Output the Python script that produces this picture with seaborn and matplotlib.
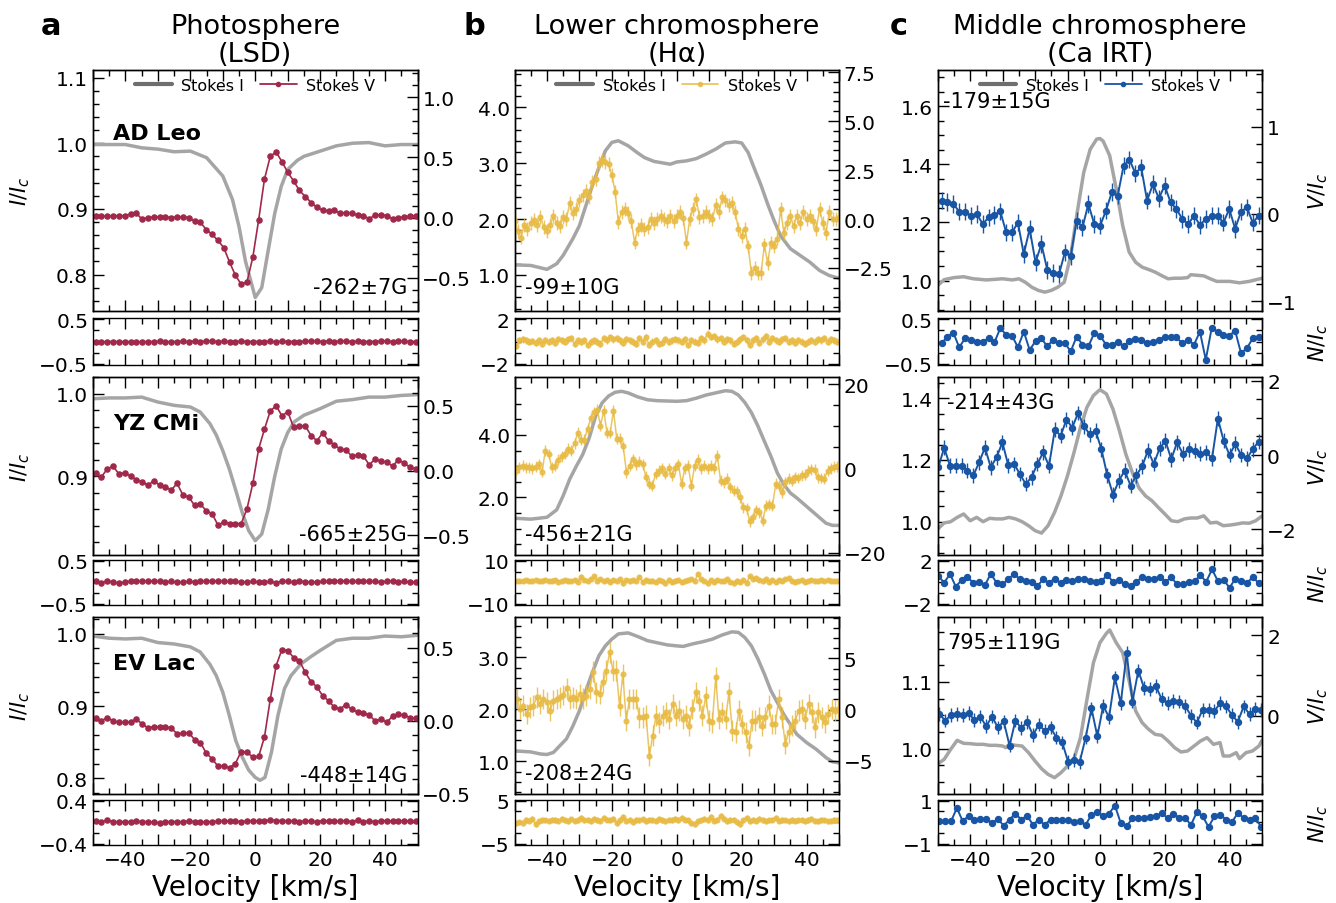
import numpy as np
import matplotlib
matplotlib.use("Agg")
import matplotlib.pyplot as plt
import seaborn as sns
from matplotlib.ticker import MultipleLocator, FixedLocator, FuncFormatter
from matplotlib.lines import Line2D

# ---------------------------------------------------------------- data
column_titles = ["Photosphere\n(LSD)", "Lower chromosphere\n(H\u03b1)", "Middle chromosphere\n(Ca IRT)"]
panel_letters = ["a", "b", "c"]
stars = ["AD Leo", "YZ CMi", "EV Lac"]
bfield_labels = [["-262\u00b17G", "-665\u00b125G", "-448\u00b114G"],
                 ["-99\u00b110G", "-456\u00b121G", "-208\u00b124G"],
                 ["-179\u00b115G", "-214\u00b143G", "795\u00b1119G"]]

# ---- Photosphere (LSD) Stokes I
vI_a1 = [-50, -45, -40, -35, -30, -25, -20, -15, -10, -7, -5, -3, 0, 2, 4, 6, 8, 10, 13, 15, 20, 25, 30, 35, 40, 45, 50]
I_a1 = [0.998, 0.998, 0.998, 0.993, 0.991, 0.987, 0.988, 0.978, 0.95, 0.914, 0.873, 0.82, 0.765, 0.78, 0.837, 0.893,
        0.934, 0.96, 0.974, 0.98, 0.988, 0.996, 1.0, 1.001, 0.996, 0.998, 0.998]
vI_a2 = [-50, -45, -40, -35, -30, -25, -20, -17, -14, -12, -10, -8, -6, -4, -2, 0, 2, 4, 6, 8, 10, 12, 15, 20, 25, 30,
         35, 40, 45, 50]
I_a2 = [0.994, 0.995, 0.995, 0.996, 0.99, 0.986, 0.984, 0.978, 0.964, 0.95, 0.931, 0.909, 0.883, 0.856, 0.834, 0.822,
        0.83, 0.86, 0.9, 0.933, 0.953, 0.966, 0.974, 0.982, 0.991, 0.993, 0.996, 0.996, 0.998, 0.999]
vI_a3 = [-50, -45, -40, -35, -30, -25, -20, -17, -14, -12, -10, -8, -6, -4, -2, 0, 1.5, 3, 5, 7, 9, 11, 14, 17, 20, 25,
         30, 35, 40, 45, 50]
I_a3 = [0.997, 0.994, 0.993, 0.994, 0.988, 0.986, 0.982, 0.975, 0.958, 0.942, 0.919, 0.887, 0.852, 0.829, 0.811, 0.801,
        0.797, 0.801, 0.836, 0.887, 0.924, 0.942, 0.958, 0.968, 0.977, 0.991, 0.994, 0.994, 0.997, 0.996, 0.998]

# ---- Photosphere (LSD) Stokes V and null
V_a1 = [0.01, 0.01, 0.01, 0.015, 0.015, 0.015, 0.03, 0.035, -0.015, 0.0, 0.005, 0.005, 0.005, 0.0, 0.005, 0.005, 0.0,
        -0.03, -0.04, -0.1, -0.14, -0.19, -0.25, -0.37, -0.48, -0.555, -0.535, -0.33, -0.02, 0.32, 0.51, 0.545, 0.465,
        0.375, 0.305, 0.225, 0.175, 0.125, 0.085, 0.06, 0.055, 0.06, 0.035, 0.04, 0.035, 0.02, 0.015, -0.01, 0.02,
        0.025, 0.015, -0.01, 0.0, 0.005, 0.015, 0.015]
V_a2 = [-0.018, -0.05, 0.013, 0.033, -0.026, -0.018, -0.044, -0.07, -0.085, -0.115, -0.077, -0.115, -0.128, -0.15,
        -0.1, -0.19, -0.205, -0.27, -0.26, -0.31, -0.333, -0.42, -0.4, -0.41, -0.41, -0.41, -0.295, -0.1, 0.167, 0.32,
        0.46, 0.5, 0.423, 0.454, 0.333, 0.341, 0.346, 0.27, 0.23, 0.29, 0.23, 0.197, 0.167, 0.159, 0.11, 0.12, 0.11,
        0.044, 0.09, 0.07, 0.064, 0.033, 0.085, 0.056, 0.026, 0.013]
V_a3 = [0.022, 0.0, 0.022, 0.0, -0.011, -0.011, -0.007, 0.011, -0.022, -0.049, -0.04, -0.04, -0.04, -0.051, -0.089,
        -0.085, -0.082, -0.129, -0.149, -0.222, -0.26, -0.311, -0.307, -0.322, -0.293, -0.211, -0.216, -0.249, -0.244,
        -0.111, 0.149, 0.378, 0.489, 0.482, 0.433, 0.411, 0.333, 0.267, 0.233, 0.171, 0.138, 0.093, 0.082, 0.111,
        0.078, 0.06, 0.056, 0.038, 0.0, 0.011, -0.011, 0.033, 0.044, 0.038, 0.022, 0.016]
N_a1 = [-0.01, -0.01, 0.0, -0.005, 0.0, -0.005, -0.005, -0.01, 0.0, -0.005, 0.0, 0.005, 0.0, -0.01, 0.0, 0.005, 0.0,
        0.01, 0.0, 0.005, 0.01, 0.0, 0.005, 0.0, 0.0, 0.005, 0.0, 0.0, 0.0, 0.0, 0.005, -0.005, 0.005, 0.0, 0.0, -0.005,
        0.005, 0.01, 0.01, 0.0, 0.01, 0.0, 0.005, 0.005, 0.0, 0.005, 0.0, 0.0, 0.0, 0.005, 0.005, 0.0, 0.005, 0.005,
        0.0, 0.0]
N_a2 = [0.02, -0.01, 0.04, 0.0, -0.01, 0.0, 0.03, 0.03, 0.02, 0.03, 0.03, 0.02, 0.01, 0.02, 0.0, 0.0, 0.02, 0.0, 0.02,
        0.03, 0.02, 0.03, 0.03, 0.02, 0.02, 0.0, 0.01, 0.02, 0.0, 0.0, 0.02, -0.01, 0.03, 0.02, 0.0, 0.03, 0.01, 0.0,
        0.01, 0.02, 0.02, 0.03, 0.04, 0.03, 0.02, 0.02, 0.02, 0.03, 0.02, 0.01, 0.02, 0.03, 0.01, 0.02, 0.0, 0.01]
N_a3 = [0.02, 0.01, 0.04, 0.01, 0.01, 0.01, 0.01, 0.02, 0.01, 0.01, 0.0, -0.01, 0.01, 0.01, 0.01, 0.01, 0.02, 0.01, 0.0,
        0.01, 0.01, 0.02, 0.03, 0.02, 0.02, 0.01, 0.02, 0.03, 0.02, 0.03, 0.04, 0.03, 0.03, 0.02, 0.03, 0.0, 0.03, 0.02,
        0.01, 0.03, 0.02, 0.02, 0.02, 0.03, 0.01, 0.04, 0.01, 0.02, 0.01, 0.02, 0.03, 0.02, 0.02, 0.03, 0.02, 0.02]

# ---- H-alpha Stokes I
vI_b1 = [-50, -45, -40, -37, -35, -32, -30, -28, -26, -24, -22, -20, -18, -15, -12, -10, -7, -4, -2, 0, 3, 6, 9, 12, 15,
         18, 20, 22, 24, 26, 28, 30, 32, 35, 38, 41, 44, 47, 50]
I_b1 = [1.18, 1.17, 1.1, 1.2, 1.35, 1.65, 1.88, 2.24, 2.6, 2.92, 3.22, 3.37, 3.4, 3.31, 3.18, 3.1, 3.03, 3.0, 2.98,
        3.02, 3.04, 3.08, 3.16, 3.25, 3.36, 3.38, 3.36, 3.19, 2.89, 2.6, 2.27, 1.97, 1.7, 1.47, 1.35, 1.23, 1.08, 0.99,
        0.94]
vI_b2 = [-50, -45, -40, -37, -35, -33, -31, -29, -27, -25, -23, -21, -19, -17, -15, -12, -9, -6, -3, 0, 3, 6, 9, 12,
         15, 17, 19, 21, 23, 25, 27, 29, 31, 33, 35, 37, 40, 43, 46, 48, 50]
I_b2 = [1.33, 1.3, 1.36, 1.6, 2.05, 2.58, 2.99, 3.37, 3.9, 4.6, 5.03, 5.25, 5.37, 5.4, 5.35, 5.22, 5.13, 5.1, 5.09,
        5.08, 5.1, 5.18, 5.28, 5.35, 5.42, 5.4, 5.28, 5.04, 4.72, 4.29, 3.8, 3.32, 2.78, 2.41, 2.14, 1.98, 1.71, 1.44,
        1.17, 1.1, 1.1]
vI_b3 = [-50, -45, -42, -40, -38, -36, -34, -32, -30, -28, -26, -24, -22, -20, -18, -15, -12, -9, -6, -3, 0, 2, 5, 8,
         11, 14, 17, 19, 21, 23, 25, 27, 29, 31, 33, 35, 37, 40, 43, 46, 48, 50]
I_b3 = [1.2, 1.18, 1.14, 1.13, 1.17, 1.3, 1.43, 1.68, 1.97, 2.36, 2.71, 3.03, 3.22, 3.35, 3.45, 3.47, 3.4, 3.32, 3.28,
        3.24, 3.22, 3.21, 3.26, 3.3, 3.35, 3.43, 3.49, 3.48, 3.38, 3.22, 2.97, 2.68, 2.36, 2.13, 1.9, 1.71, 1.52, 1.36,
        1.23, 1.07, 0.99, 0.97]

# ---- H-alpha Stokes V and null
V_b1 = [-0.1, -0.6, -0.95, -0.3, -0.5, -0.2, -0.05, -0.3, 0.1, -0.4,
        -0.6, -0.3, 0.15, -0.2, -0.35, 0.1, 0.0, 0.8, 0.3, 0.5,
        0.95, 1.2, 1.45, 1.1, 1.9, 2.05, 2.85, 3.0, 2.9, 2.8,
        2.25, 1.4, -0.15, 0.35, 0.5, 0.3, -0.1, -1.2, -0.5, -0.3,
        -0.5, -0.4, 0.0, -0.2, 0.0, 0.15, 0.0, -0.1, 0.15, -0.1,
        0.15, 0.35, 0.05, -1.2, 0.0, 0.5, 1.0, 0.1, 0.15, 0.35,
        0.15, 0.0, 0.7, 0.35, 1.1, 0.95, 0.7, 0.8, 0.35, -0.5,
        -0.85, -0.5, -1.4, -2.75, -2.5, -2.75, -2.75, -1.3, -2.25, -1.2,
        -1.4, -1.0, 0.5, -0.7, -0.2, 0.15, -0.35, 0.15, -0.2, 0.35,
        0.0, 0.15, -0.1, -0.5, 0.5, -0.2, -0.7, 0.35, 0.0, 0.0, 0.1]
V_b2 = [-0.55, 0.3, 0.6, 0.2, 0.3, 0.0, 0.4, 1.0, -0.8, 4.2,
        3.4, 0.2, 0.6, 2.0, 2.85, 3.4, 4.6, 4.2, 6.0, 8.4,
        6.8, 6.8, 9.3, 11.9, 13.3, 13.9, 10.1, 13.7, 8.5, 8.5,
        13.7, 7.0, 7.0, 5.2, -0.9, 0.6, 2.2, 1.0, 1.6, 1.0,
        -2.0, -3.7, -4.1, -1.3, -0.55, 0.0, -1.3, 0.0, -1.7, 0.0,
        1.0, -3.7, 0.0, 0.6, -4.1, 0.6, 2.05, 0.0, 0.6, 0.0,
        0.6, 0.0, 3.0, -2.9, -3.3, -2.5, -4.5, -5.3, -5.5, -6.9,
        -9.2, -9.5, -12.6, -11.6, -10.0, -10.4, -12.4, -8.9, -8.5, -8.9,
        -3.7, -4.1, -5.7, -3.3, -2.5, -2.9, -2.1, -2.3, -1.7, -1.5,
        -0.6, -0.2, -0.3, -2.1, -2.3, -2.5, -0.6, 0.0, 0.4, 0.5]
V_b3 = [1.04, 0.07, 0.39, -0.42, 0.23, 0.39, 1.2, 0.55, 1.04, 0.72,
        -0.1, 0.88, 1.04, 1.2, 1.43, 2.08, 1.04, 1.2, 1.04, 1.53,
        1.11, 1.37, 2.02, 3.71, 1.69, 1.53, 2.67, 3.81, 5.6, 3.81,
        3.81, 0.39, 3.49, -1.07, 1.04, 1.04, 1.04, -0.75, -0.75, -0.59,
        -4.5, -2.54, -0.59, -1.24, -0.59, -0.26, -0.91, 0.55, -0.59, -0.1,
        -0.91, -0.59, -1.56, 0.07, 1.69, 0.88, -0.59, 1.3, -1.07, -1.24,
        3.16, -0.91, -0.26, -0.91, 1.69, -2.05, -2.21, -0.1, -1.4, -2.21,
        -3.52, -1.07, -1.07, -0.75, -1.56, -0.75, 0.39, -1.4, -1.4, 1.04,
        -0.75, -3.36, -2.21, -1.56, -1.07, -0.1, 0.07, -0.91, 0.55, -0.26,
        -1.73, -0.26, -0.75, -1.24, -0.42, 0.07, -0.1, 0.07]
N_b1 = [-0.4, 0.1, 0.2, 0.1, 0.0, 0.05, -0.1, 0.1, -0.2, 0.1, 0.0, 0.1, -0.1, 0.2, 0.1, 0.0, 0.2, 0.3, -0.2, 0.1,
        0.0, 0.1, -0.3, 0.0, 0.1, 0.0, -0.2, 0.3, 0.1, 0.4, 0.2, 0.3, 0.1, -0.1, 0.2, 0.1, 0.0, -0.2, 0.3, 0.0,
        0.4, -0.3, 0.0, 0.1, -0.2, -0.1, 0.2, 0.0, 0.1, 0.2, 0.1, 0.0, 0.2, -0.3, 0.1, 0.0, -0.1, 0.3, 0.1, 0.7,
        0.4, 0.5, 0.2, 0.3, 0.0, 0.2, 0.1, -0.2, 0.0, 0.2, 0.4, 0.1, -0.3, 0.1, 0.3, -0.1, 0.2, 0.5, 0.0, 0.3,
        0.1, 0.0, 0.2, 0.3, 0.0, 0.1, -0.1, 0.1, 0.0, -0.2, 0.0, 0.1, 0.0, 0.2, 0.1, 0.3, 0.0, 0.2, 0.1, 0.0]
N_b2 = [0.5, 0.8, 0.5, 1.0, 0.5, 0.8, 1.2, 0.5, 0.8, 1.0, 0.5, 0.8, 1.0, 0.3, 0.5, 1.2, 0.8, 0.5, 1.0, 0.2,
        2.7, 1.0, 0.5, 1.5, 3.0, 0.8, 1.5, 0.5, 1.2, 0.0, 1.0, 0.5, 1.5, -0.5, 1.0, 0.8, 1.2, 0.5, 2.5, 0.3,
        1.0, 0.5, 0.8, 0.0, 1.0, 0.5, -0.5, 1.0, 0.3, 0.8, 1.2, 0.0, 0.8, 1.0, 1.5, 0.5, 4.0, 1.5, 0.5, -0.5,
        1.0, 0.0, 1.2, 0.5, 0.8, 1.5, 0.0, -0.5, 0.8, 0.3, 1.0, -0.3, 2.8, 1.5, 1.8, 1.2, 0.5, 1.5, 0.3, 1.0,
        0.0, 1.2, 0.5, 1.5, 1.8, 0.5, 0.0, 0.5, 1.0, 0.3, 0.5, 1.0, 0.8, 0.5, 1.2, 0.5, 1.0, 0.8, 0.5, 0.5]
N_b3 = [-0.3, 0.0, -0.2, 0.5, 0.3, 0.8, -0.5, 0.2, 0.5, 0.4, 0.3, 0.6, 0.5, 0.3, 0.8, 0.4, 0.2, 0.7, 0.3, 0.5,
        1.0, 0.4, 0.6, 0.2, 0.8, 0.5, 0.3, 1.0, 0.6, 0.4, 0.8, -0.2, 0.5, 1.2, 0.3, 0.6, 0.0, 0.5, 0.4, 0.7,
        0.2, 0.6, 0.5, 0.3, 0.8, 0.5, 0.2, 0.6, 0.5, 0.8, 0.5, 1.0, 0.6, 0.4, -0.3, -0.4, 0.2, 0.4, 0.8, 0.5,
        1.2, 0.3, 0.6, 1.5, 0.8, 0.2, 0.5, 0.6, 0.0, -0.5, 0.4, 1.0, 0.2, 0.6, 0.3, 0.8, 0.5, 0.2, 0.4, 0.6,
        1.0, 0.3, 0.5, 0.4, 0.2, 0.5, 0.3, 0.4, 0.6, 0.2, 0.5, 0.8, 0.3, 0.2, 0.5, 0.4, 0.2, 0.3, 0.5, 0.4]

# ---- Ca IRT Stokes I
vI_c1 = [-50, -48, -45, -42, -39, -35, -30, -27, -25, -23, -21, -19, -17, -15, -13, -11, -9, -7, -5, -3, -1, 0, 1, 3,
         5, 7, 9, 11, 13, 15, 17, 19, 21, 23, 25, 27, 28, 30, 32, 34, 36, 40, 43, 46, 50]
I_c1 = [0.983, 1.003, 1.01, 1.013, 1.006, 1.002, 1.006, 1.002, 1.006, 0.994, 0.977, 0.966, 0.96, 0.966, 0.977, 0.994,
        1.086, 1.235, 1.372, 1.452, 1.487, 1.489, 1.48, 1.43, 1.316, 1.19, 1.098, 1.063, 1.046, 1.038, 1.029, 1.017,
        1.006, 1.008, 1.008, 1.01, 1.02, 1.018, 1.016, 1.006, 0.997, 0.997, 0.992, 0.997, 1.008]
vI_c2 = [-50, -48, -46, -44, -42, -40, -38, -36, -34, -32, -30, -28, -26, -24, -22, -20, -18, -16, -14, -12, -10, -8,
         -6, -4, -2, 0, 2, 4, 6, 8, 10, 12, 14, 16, 18, 20, 22, 24, 26, 28, 30, 32, 34, 36, 38, 40, 42, 44, 46, 48, 50]
I_c2 = [0.976, 0.996, 1.0, 1.014, 1.025, 1.003, 1.014, 1.0, 1.011, 1.009, 1.009, 1.014, 1.009, 1.0, 0.987, 0.971,
        0.963, 0.987, 1.03, 1.084, 1.149, 1.224, 1.306, 1.371, 1.409, 1.428, 1.414, 1.365, 1.295, 1.218, 1.159, 1.11,
        1.084, 1.068, 1.046, 1.025, 1.003, 1.0, 1.009, 1.012, 1.012, 1.019, 0.996, 0.998, 0.987, 0.989, 0.992, 0.996,
        0.995, 1.003, 1.019]
vI_c3 = [-50, -48, -46, -44, -42, -40, -38, -36, -34, -32, -30, -29, -28, -26, -24, -22, -20, -18, -16, -14, -12, -10,
         -8, -6, -4, -2, 0, 2, 3, 5, 7, 9, 11, 13, 15, 17, 19, 21, 23, 25, 27, 29, 31, 33, 35, 37, 38, 40, 42, 43, 45,
         47, 49, 50]
I_c3 = [0.977, 0.984, 0.999, 1.0125, 1.008, 1.0075, 1.0065, 1.0065, 1.005, 1.005, 1.004, 1.0015, 1.0065, 1.005, 1.004,
        0.994, 0.9815, 0.97, 0.9615, 0.9565, 0.964, 0.974, 0.985, 1.0165, 1.074, 1.129, 1.159, 1.173, 1.178, 1.159,
        1.144, 1.1015, 1.0565, 1.039, 1.029, 1.0215, 1.02, 1.0115, 1.0015, 0.995, 0.9965, 1.004, 1.0115, 1.0165,
        1.0065, 1.009, 0.989, 0.989, 0.994, 0.985, 0.994, 0.9965, 1.004, 1.013]

# ---- Ca IRT Stokes V and null
V_c1 = [0.153, 0.14, 0.115, 0.027, 0.027, -0.02, 0.0, -0.115, -0.04, -0.01, 0.03, -0.21, -0.21, -0.1, -0.46, -0.17,
        -0.555, -0.344, -0.64, -0.677, -0.69, -0.44, -0.48, -0.076, -0.153, 0.115, -0.115, -0.134, 0.038, 0.25, 0.21,
        0.555, 0.623, 0.467, 0.535, 0.153, 0.344, 0.18, 0.325, 0.134, 0.057, -0.057, -0.115, -0.02, -0.126, -0.057,
        -0.02, -0.02, -0.1, 0.057, -0.17, 0.027, 0.076, -0.1, -0.02]
V_c2 = [-0.33, 0.2, -0.29, -0.29, -0.29, -0.42, -0.55, -0.2, 0.2, -0.33, -0.06, 0.34, -0.27, -0.24, -0.51, -0.78,
        -0.6, -0.24, 0.07, -0.29, 0.68, 0.52, 0.95, 0.74, 1.13, 0.77, 0.56, 0.65, 0.16, -0.54, -1.07, -0.69, -0.42,
        -0.82, -0.55, -0.3, 0.12, -0.24, 0.18, 0.38, -0.11, 0.34, 0.03, 0.16, 0.12, 0.03, 0.07, -0.09, 0.98, 0.38,
        0.0, 0.3, 0.0, -0.09, 0.16, 0.36]
V_c3 = [0.04, -0.12, 0.02, 0.04, 0.02, 0.07, -0.11, -0.02, -0.26, -0.02, -0.29, -0.14, -0.74, -0.12, -0.31, -0.15,
        -0.48, -0.22, -0.37, -0.29, -0.54, -0.66, -1.14, -1.09, -1.14, -0.54, 0.18, -0.51, 0.25, -0.04, 0.95, 0.31,
        1.55, 0.35, 1.12, 0.68, 0.66, 0.73, 0.41, 0.31, 0.37, 0.35, 0.25, 0.0, -0.17, 0.15, 0.15, 0.12, 0.31, 0.23,
        0.02, -0.15, 0.23, 0.04, 0.17, 0.15]
N_c1 = [-0.04, 0.11, 0.2, -0.13, 0.07, 0.04, 0.0, 0.0, 0.07, -0.02, 0.3, 0.15, 0.13, -0.13, 0.22, -0.19, 0.01, 0.07,
        -0.11, 0.04, -0.04, -0.04, -0.22, 0.11, -0.07, -0.11, 0.19, 0.13, -0.07, -0.07, -0.01, -0.11, 0.01, 0.06, 0.04,
        -0.04, -0.02, 0.04, 0.11, 0.11, 0.09, -0.04, 0.04, -0.07, 0.22, -0.41, 0.3, 0.22, 0.15, 0.13, 0.24, -0.26,
        -0.15, 0.07, 0.09]
N_c2 = [0.59, -0.03, 0.78, -0.4, 0.22, 0.47, -0.03, 0.06, -0.25, 0.78, -0.03, -0.16, 0.28, 0.78, 0.28, 0.12, 0.06,
        -0.34, 0.28, -0.03, 0.34, -0.09, 0.22, 0.16, 0.28, 0.28, 0.12, 0.06, 0.12, 0.68, 0.06, 0.22, -0.19, -0.34, 0.06,
        0.47, 0.34, 0.34, 0.47, 0.06, 0.47, -0.19, -0.19, 0.06, 0.12, 0.65, 0.06, 1.21, 0.12, 0.22, -0.5, 0.34, 0.16,
        -0.09, 0.53, -0.09]
N_c3 = [0.04, 0.04, 0.04, 0.66, 0.04, 0.3, 0.09, 0.15, 0.15, -0.04, 0.15, -0.16, 0.12, 0.4, 0.12, 0.3, -0.12, 0.12,
        -0.12, 0.12, 0.12, 0.12, 0.09, 0.0, 0.04, -0.12, 0.35, 0.46, 0.3, 0.4, 0.77, -0.04, -0.19, 0.19, 0.19, 0.19,
        0.24, 0.27, 0.43, 0.19, 0.4, 0.19, 0.19, -0.12, 0.46, 0.27, -0.22, 0.27, 0.35, 0.12, 0.0, 0.43, 0.19, 0.12,
        0.19, -0.22]

# velocity span covered by each Stokes V / null series (km/s)
V_span = [[(-49.2, 49.5), (-49.2, 49.5), (-49.2, 49.5)],
          [(-50.0, 50.0), (-49.5, 49.5), (-49.3, 49.8)],
          [(-48.8, 48.9), (-49.8, 48.9), (-49.5, 49.7)]]
N_span = [[(-49.2, 49.5)] * 3,
          [(-49.5, 49.5)] * 3,
          [(-48.8, 48.9), (-49.8, 48.9), (-49.5, 49.7)]]
V_err = [[0.008, 0.008, 0.008], [0.35, 1.3, 1.0], [0.1, 0.2, 0.17]]
N_err = [[0.006, 0.006, 0.006], [0.3, 1.0, 0.6], [0.06, 0.15, 0.1]]

I_data = [[(vI_a1, I_a1), (vI_a2, I_a2), (vI_a3, I_a3)],
          [(vI_b1, I_b1), (vI_b2, I_b2), (vI_b3, I_b3)],
          [(vI_c1, I_c1), (vI_c2, I_c2), (vI_c3, I_c3)]]
V_data = [[V_a1, V_a2, V_a3], [V_b1, V_b2, V_b3], [V_c1, V_c2, V_c3]]
N_data = [[N_a1, N_a2, N_a3], [N_b1, N_b2, N_b3], [N_c1, N_c2, N_c3]]

# ---------------------------------------------------------------- axis settings
left_lims = [[(0.744, 1.112), (0.805, 1.020), (0.778, 1.023)],
             [(0.35, 4.67), (0.16, 5.85), (0.37, 3.77)],
             [(0.894, 1.726), (0.893, 1.468), (0.932, 1.197)]]
left_ticks = [[(0.1, 0.02, 1)] * 3,
              [(1.0, 0.2, 1), (2.0, 0.5, 1), (1.0, 0.2, 1)],
              [(0.2, 0.05, 1), (0.2, 0.05, 1), (0.1, 0.025, 1)]]
right_lims = [[(-0.78, 1.23), (-0.65, 0.72), (-0.502, 0.71)],
              [(-4.71, 7.62), (-20.5, 21.6), (-8.23, 9.02)],
              [(-1.116, 1.655), (-2.68, 2.09), (-1.94, 2.44)]]
right_ticks = [[(0.5, 0.1, 1)] * 3,
               [(2.5, 0.5, 1), (20, 5, 0), (5, 1, 0)],
               [(1, 0.2, 0), (2, 0.5, 0), (2, 0.5, 0)]]
null_lim = [[0.5, 0.5, 0.4], [2, 10, 5], [0.5, 2, 1]]
null_dec = [[1, 1, 1], [0, 0, 0], [1, 0, 0]]

bfield_pos = [[(0.968, 0.10, 'right'), (0.968, 0.117, 'right'), (0.968, 0.108, 'right')],
              [(0.032, 0.10, 'left'), (0.032, 0.117, 'left'), (0.032, 0.119, 'left')],
              [(0.016, 0.87, 'left'), (0.029, 0.861, 'left'), (0.030, 0.86, 'left')]]

V_colors = ['#a0284b', '#e8bb45', '#1955a5']
V_alpha = [1.0, 0.85, 1.0]
V_ms = [3.7, 3.4, 4.3]
V_lw = [1.2, 1.1, 1.4]
I_color = '#a5a5a5'
I_legend_color = '#6f6f6f'

# ---------------------------------------------------------------- style
sns.set_theme(style='ticks', rc={
    'axes.edgecolor': 'black', 'axes.labelcolor': 'black', 'text.color': 'black',
    'xtick.color': 'black', 'ytick.color': 'black', 'axes.linewidth': 1.0,
})
plt.rcParams['font.family'] = ['DejaVu Sans']
plt.rcParams['mathtext.fontset'] = 'dejavusans'

W, H = 1336, 904
fig = plt.figure(figsize=(W / 100, H / 100), dpi=100)

col_left = [93.0, 514.5, 937.7]
col_w = 324.5
main_rows = [(70.7, 312.3), (378.3, 555.7), (618.3, 795.0)]
null_rows = [(319.3, 365.7), (561.0, 605.7), (800.7, 845.7)]
TICK_FS = 14.5


def rect(x0, top, bottom):
    return [x0 / W, (H - bottom) / H, col_w / W, (bottom - top) / H]


def num_fmt(dec):
    def f(v, pos):
        if abs(v) < 1e-9:
            v = 0.0
        return f"{v:.{dec}f}".replace('-', '\u2212')
    return FuncFormatter(f)


def x_fmt(v, pos):
    iv = int(round(v))
    if iv % 20 != 0:
        return ''
    return str(iv).replace('-', '\u2212')


def style_x(ax, labels):
    ax.set_xlim(-50, 50)
    ax.xaxis.set_major_locator(MultipleLocator(10))
    ax.xaxis.set_minor_locator(MultipleLocator(5))
    ax.xaxis.set_major_formatter(FuncFormatter(x_fmt))
    ax.tick_params(axis='x', which='both', direction='in', top=True, bottom=True,
                   labelbottom=labels, labelsize=TICK_FS, width=1.0)
    ax.tick_params(axis='x', which='major', length=8)
    ax.tick_params(axis='x', which='minor', length=4)


for i in range(3):
    for j in range(3):
        # ---------------- main panel
        ax = fig.add_axes(rect(col_left[i], *main_rows[j]))
        vI, I = I_data[i][j]
        sns.lineplot(x=np.array(vI, float), y=np.array(I, float), ax=ax, color=I_color,
                     lw=2.5, estimator=None, sort=False)
        ax.set_xlabel('')
        ax.set_ylabel('')
        style_x(ax, False)
        ax.set_ylim(*left_lims[i][j])
        mj, mn, dec = left_ticks[i][j]
        ax.yaxis.set_major_locator(MultipleLocator(mj))
        ax.yaxis.set_minor_locator(MultipleLocator(mn))
        ax.yaxis.set_major_formatter(num_fmt(dec))
        ax.tick_params(axis='y', which='both', direction='in', left=True, right=False,
                       labelsize=TICK_FS, width=1.0)
        ax.tick_params(axis='y', which='major', length=8)
        ax.tick_params(axis='y', which='minor', length=4)

        ax2 = ax.twinx()
        V = np.array(V_data[i][j], float)
        vV = np.linspace(V_span[i][j][0], V_span[i][j][1], len(V))
        ax2.errorbar(vV, V, yerr=V_err[i][j], fmt='o-', color=V_colors[i], alpha=V_alpha[i],
                     ms=V_ms[i], lw=V_lw[i], elinewidth=1.0, capsize=0)
        ax2.set_ylim(*right_lims[i][j])
        mj, mn, dec = right_ticks[i][j]
        ax2.yaxis.set_major_locator(MultipleLocator(mj))
        ax2.yaxis.set_minor_locator(MultipleLocator(mn))
        ax2.yaxis.set_major_formatter(num_fmt(dec))
        ax2.tick_params(axis='y', which='both', direction='in', right=True, left=False,
                        labelsize=TICK_FS, width=1.0)
        ax2.tick_params(axis='y', which='major', length=8)
        ax2.tick_params(axis='y', which='minor', length=4)
        ax2.set_xlim(-50, 50)

        if i == 0:
            ax2.text(0.062, 0.74, stars[j], transform=ax2.transAxes, fontsize=16,
                     fontweight='bold', ha='left', va='center')
        bx, by, bha = bfield_pos[i][j]
        ax2.text(bx, by, bfield_labels[i][j], transform=ax2.transAxes, fontsize=15,
                 ha=bha, va='center')

        if j == 0:
            ax.set_title(column_titles[i], fontsize=19.5, pad=6.5, linespacing=1.1)
            handles = [Line2D([], [], color=I_legend_color, lw=3),
                       Line2D([], [], color=V_colors[i], lw=1.3, marker='o', ms=3,
                              alpha=V_alpha[i])]
            ax2.legend(handles, ['Stokes I', 'Stokes V'], loc='upper center', ncol=2,
                       frameon=False, fontsize=11.5, borderaxespad=0.1, handlelength=2.3,
                       handletextpad=0.6, columnspacing=1.0, numpoints=1)

        # ---------------- null panel
        axn = fig.add_axes(rect(col_left[i], *null_rows[j]))
        N = np.array(N_data[i][j], float)
        vN = np.linspace(N_span[i][j][0], N_span[i][j][1], len(N))
        axn.errorbar(vN, N, yerr=N_err[i][j], fmt='o-', color=V_colors[i], alpha=V_alpha[i],
                     ms=V_ms[i], lw=V_lw[i], elinewidth=1.0, capsize=0)
        style_x(axn, j == 2)
        L = null_lim[i][j]
        axn.set_ylim(-1.04 * L, 1.04 * L)
        axn.yaxis.set_major_locator(FixedLocator([-L, L]))
        axn.yaxis.set_minor_locator(FixedLocator([-L / 2, 0, L / 2]))
        axn.yaxis.set_major_formatter(num_fmt(null_dec[i][j]))
        axn.tick_params(axis='y', which='both', direction='in', left=True, right=True,
                        labelsize=TICK_FS, width=1.0)
        axn.tick_params(axis='y', which='major', length=8)
        axn.tick_params(axis='y', which='minor', length=4)
        if j == 2:
            axn.set_xlabel('Velocity [km/s]', fontsize=20, labelpad=3)

# panel letters
for i, x in enumerate([41, 463, 890]):
    fig.text(x / W, (H - 35) / H, panel_letters[i], fontsize=22, fontweight='bold',
             ha='left', va='baseline')

# y labels
for j, (top, bottom) in enumerate(main_rows):
    yc = (H - (top + bottom) / 2) / H
    fig.text(20 / W, yc, r'$I/I_c$', rotation=90, fontsize=15, ha='center', va='center')
    fig.text(1318 / W, yc, r'$V/I_c$', rotation=90, fontsize=15, ha='center', va='center')
for j, (top, bottom) in enumerate(null_rows):
    yc = (H - (top + bottom) / 2) / H
    fig.text(1318 / W, yc, r'$N/I_c$', rotation=90, fontsize=15, ha='center', va='center')

fig.savefig('out.png', dpi=100)
